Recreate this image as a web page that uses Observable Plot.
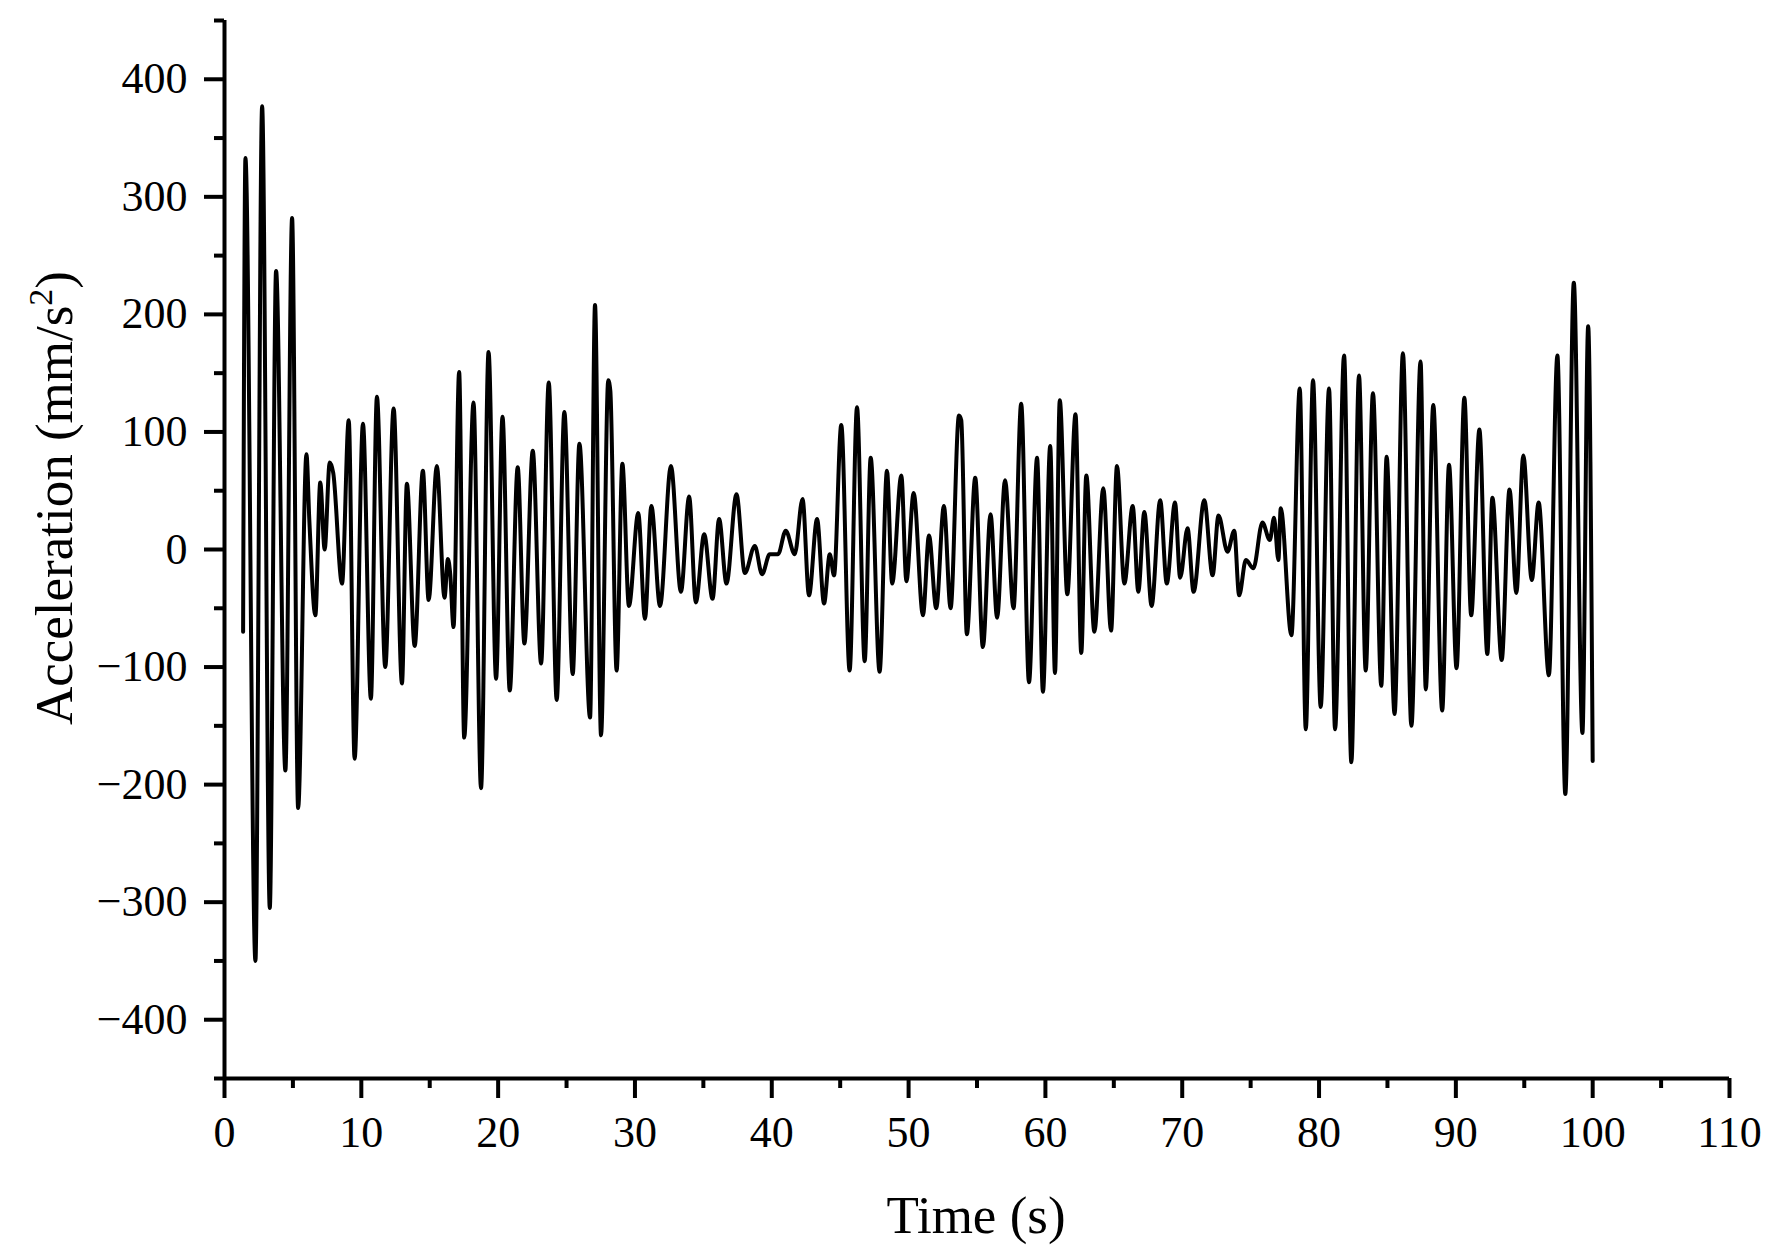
<!DOCTYPE html>
<html>
<head>
<meta charset="utf-8">
<script src="https://cdn.jsdelivr.net/npm/d3@7"></script>
<script src="https://cdn.jsdelivr.net/npm/@observablehq/plot@0.6"></script>
<style>
  body { margin: 0; background: #fff; }
  #chart svg { display: block; }
</style>
</head>
<body>
<div id="chart"></div>
<script>
// Time (s) of each sampled extremum along the acceleration trace
const times = [
  1.36, 1.53, 2.26, 2.75, 3.31, 3.77, 4.45, 4.94, 5.38, 5.99, 6.2, 6.64, 7.0, 7.32, 7.69, 7.95, 8.59,
  9.08, 9.51, 10.12, 10.7, 11.14, 11.75, 12.36, 12.97, 13.33, 13.9, 14.5, 14.92, 15.52, 16.08,
  16.33, 16.5, 16.74, 17.15, 17.52, 18.2, 18.75, 19.3, 19.85, 20.32, 20.85, 21.43, 21.92, 22.53,
  23.14, 23.7, 24.28, 24.84, 25.45, 25.94, 26.72, 27.08, 27.52, 28.05, 28.2, 28.66, 29.08, 29.56,
  30.24, 30.73, 31.2, 31.83, 32.63, 33.36, 33.96, 34.45, 35.06, 35.67, 36.15, 36.69, 37.42, 38.03,
  38.76, 39.29, 39.85, 40.46, 41.02, 41.68, 42.25, 42.72, 43.31, 43.82, 44.24, 44.55, 45.08, 45.69,
  46.23, 46.79, 47.23, 47.88, 48.42, 48.8, 49.47, 49.84, 50.37, 51.05, 51.49, 52.02, 52.58, 53.07,
  53.68, 53.85, 54.26, 54.87, 55.43, 55.99, 56.47, 57.05, 57.67, 58.23, 58.8, 59.39, 59.82, 60.35,
  60.7, 61.05, 61.6, 62.2, 62.62, 62.99, 63.58, 64.23, 64.8, 65.23, 65.77, 66.38, 66.79, 67.23,
  67.76, 68.39, 68.87, 69.47, 69.85, 70.39, 70.83, 71.61, 72.22, 72.65, 73.31, 73.8, 74.16, 74.65,
  75.2, 75.86, 76.4, 76.71, 77.03, 77.2, 77.98, 78.59, 79.03, 79.56, 80.12, 80.73, 81.17, 81.83,
  82.36, 82.92, 83.41, 83.94, 84.55, 84.94, 85.52, 86.13, 86.75, 87.42, 87.8, 88.35, 89.0, 89.5,
  90.05, 90.62, 91.12, 91.72, 92.3, 92.67, 93.35, 93.92, 94.42, 94.93, 95.55, 96.05, 96.8, 97.42,
  98.0, 98.62, 99.25, 99.67, 100.0
];
// Acceleration (mm/s^2) at those times
const accel = [
  -70, 333, -350, 377, -305, 237, -188, 282, -220, 81, 25, -56, 57, 0, 74, 65, -29,
  110, -178, 107, -127, 130, -100, 120, -114, 56, -82, 67, -43, 71, -41,
  -8, -21, -66, 151, -160, 125, -203, 168, -110, 113, -120, 70, -80, 84,
  -97, 142, -128, 117, -106, 90, -143, 208, -158, 144, 135, -103, 73, -48,
  31, -59, 37, -48, 71, -36, 45, -45, 13, -42, 26, -29, 47, -20,
  3, -21, -4, -4, 16, -4, 43, -39, 26, -46, -4, -22, 106, -103,
  121, -95, 78, -104, 67, -29, 63, -27, 48, -56, 12, -50, 37, -50,
  114, 110, -72, 61, -83, 30, -58, 59, -50, 124, -113, 78, -121, 88,
  -105, 127, -38, 115, -88, 63, -70, 52, -69, 71, -29, 37, -36, 32,
  -48, 42, -29, 40, -24, 18, -36, 42, -22, 29, -2, 16, -39, -9,
  -16, 23, 8, 27, -9, 35, -73, 137, -153, 144, -134, 137, -153, 165,
  -181, 148, -103, 133, -116, 79, -140, 167, -150, 160, -119, 123, -137, 72,
  -101, 129, -56, 102, -89, 44, -94, 51, -37, 80, -26, 40, -107, 165,
  -208, 227, -156, 190, -180
];

const xMajorTicks = [0, 10, 20, 30, 40, 50, 60, 70, 80, 90, 100, 110];
const xMinorTicks = [5, 15, 25, 35, 45, 55, 65, 75, 85, 95, 105];
const yMajorTicks = [-400, -300, -200, -100, 0, 100, 200, 300, 400];
const yMinorTicks = [-450, -350, -250, -150, -50, 50, 150, 250, 350, 450];

const xLabel = "Time (s)";
const yLabelMain = "Acceleration (mm/s";
const yLabelSup = "2";
const yLabelEnd = ")";

const data = times.map((t, i) => ({t, a: accel[i]}));
const fmt = d => d < 0 ? "\u2212" + Math.abs(d) : String(d);
const FONT = '"Liberation Serif", "Times New Roman", serif';

const chart = Plot.plot({
  width: 1777,
  height: 1256,
  marginLeft: 224,
  marginRight: 48,
  marginTop: 20,
  marginBottom: 178,
  style: {fontFamily: FONT, background: "white", color: "black", overflow: "visible"},
  x: {domain: [0, 110], label: null},
  y: {domain: [-450, 450], label: null},
  marks: [
    Plot.line(data, {x: "t", y: "a", stroke: "black", strokeWidth: 4, curve: "monotone-x"}),
    Plot.ruleY([-450], {stroke: "black", strokeWidth: 4}),
    Plot.ruleX([0], {stroke: "black", strokeWidth: 4}),
    Plot.axisX({ticks: xMajorTicks, tickSize: 20, tickPadding: 17, fontSize: 44, strokeWidth: 4, tickFormat: fmt, label: null}),
    Plot.axisX({ticks: xMinorTicks, tickSize: 10, strokeWidth: 4, tickFormat: () => "", label: null}),
    Plot.axisY({ticks: yMajorTicks, tickSize: 20, tickPadding: 17, fontSize: 44, strokeWidth: 4, tickFormat: fmt, label: null}),
    Plot.axisY({ticks: yMinorTicks, tickSize: 10, strokeWidth: 4, tickFormat: () => "", label: null})
  ]
});

document.getElementById("chart").appendChild(chart);

const svg = d3.select(chart);
svg.append("text")
  .attr("x", 976)
  .attr("y", 1233)
  .attr("text-anchor", "middle")
  .attr("font-family", FONT)
  .attr("font-size", 53)
  .attr("fill", "black")
  .text(xLabel);

const yl = svg.append("text")
  .attr("transform", "translate(72,498) rotate(-90)")
  .attr("text-anchor", "middle")
  .attr("font-family", FONT)
  .attr("font-size", 53)
  .attr("fill", "black");
yl.append("tspan").text(yLabelMain);
yl.append("tspan").attr("dy", -20).attr("font-size", 34).text(yLabelSup);
yl.append("tspan").attr("dy", 20).text(yLabelEnd);
</script>
</body>
</html>
